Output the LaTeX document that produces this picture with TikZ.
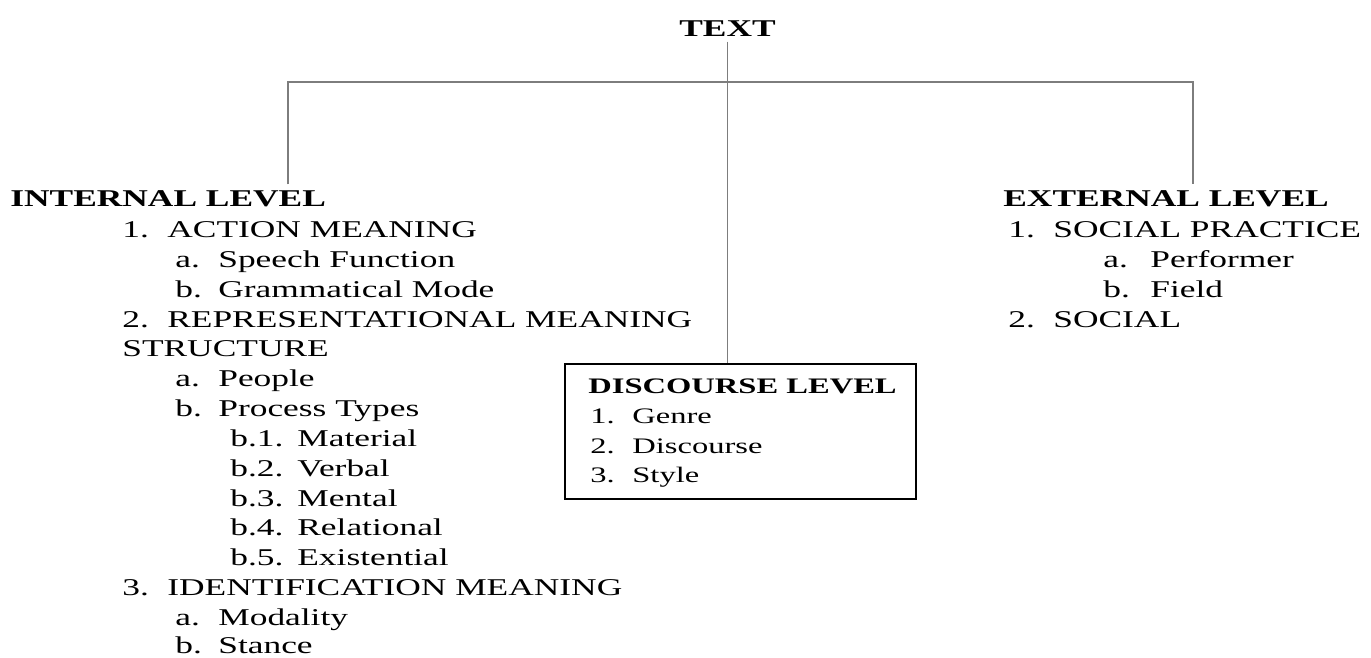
\documentclass[tikz,border=0pt]{standalone}
\usepackage{fontspec}
\setmainfont{Liberation Serif}[FakeStretch=1.47]
\definecolor{lineGray}{RGB}{125,125,125}

\begin{document}
\begin{tikzpicture}[
    x=0.02cm, y=-0.02cm,
    font=\fontsize{13.7}{16}\selectfont,
    head/.style={anchor=base west, inner xsep=0pt, inner ysep=3pt, font=\fontsize{13.7}{16}\selectfont\bfseries},
    item/.style={anchor=base west, inner sep=0pt},
    small/.style={font=\fontsize{12.6}{15}\selectfont},
    smallhead/.style={head, font=\fontsize{12.6}{15}\selectfont\bfseries},
    link/.style={draw=lineGray, line width=0.85pt},
    discbox/.style={draw=black, line width=1.2pt, anchor=north west, minimum width=7.02cm, minimum height=2.7cm, inner sep=0pt}
  ]
  \useasboundingbox (0,0) rectangle (1371,657);

  % top of the tree
  \node[head] (txt) at (679,36) {TEXT};
  \coordinate (barL) at (288,82);
  \coordinate (barR) at (1193,82);

  % internal level
  \node[head] (int) at (10,206) {INTERNAL LEVEL};
  \foreach \y/\lx/\tx/\lab/\txt [count=\i] in {
      237/122/167/1./ACTION MEANING,
      267/175/218/a./Speech Function,
      297/175/218/b./Grammatical Mode,
      327/122/167/2./REPRESENTATIONAL MEANING,
      356/122/122/{}/STRUCTURE,
      386/175/218/a./People,
      416/175/218/b./Process Types,
      446/230/297/b.1./Material,
      476/230/297/b.2./Verbal,
      506/230/297/b.3./Mental,
      535/230/297/b.4./Relational,
      565/230/297/b.5./Existential,
      595/122/167/3./IDENTIFICATION MEANING,
      625/175/218/a./Modality,
      653/175/218/b./Stance}{
    \node[item] (il\i) at (\lx,\y) {\lab};
    \node[item] (it\i) at (\tx,\y) {\txt};
  }

  % external level
  \node[head] (ext) at (1003,206) {EXTERNAL LEVEL};
  \foreach \y/\lx/\tx/\lab/\txt [count=\i] in {
      237/1008/1053/1./SOCIAL PRACTICE,
      267/1103/1150/a./Performer,
      297/1103/1150/b./Field,
      327/1008/1053/2./SOCIAL}{
    \node[item] (el\i) at (\lx,\y) {\lab};
    \node[item] (et\i) at (\tx,\y) {\txt};
  }

  % discourse level
  \node[discbox] (disc) at (564,363) {};
  \node[smallhead] (dhead) at (588,393) {DISCOURSE LEVEL};
  \foreach \y/\lab/\txt [count=\i] in {423/1./Genre, 453/2./Discourse, 482/3./Style}{
    \node[item, small] (dl\i) at (590,\y) {\lab};
    \node[item, small] (dt\i) at (632,\y) {\txt};
  }

  % connectors
  \draw[link] (barL |- int.north) -- (barL) -- (barR) -- (barR |- ext.north);
  \draw[link] (txt.south) -- (txt.south |- disc.north);
\end{tikzpicture}
\end{document}
